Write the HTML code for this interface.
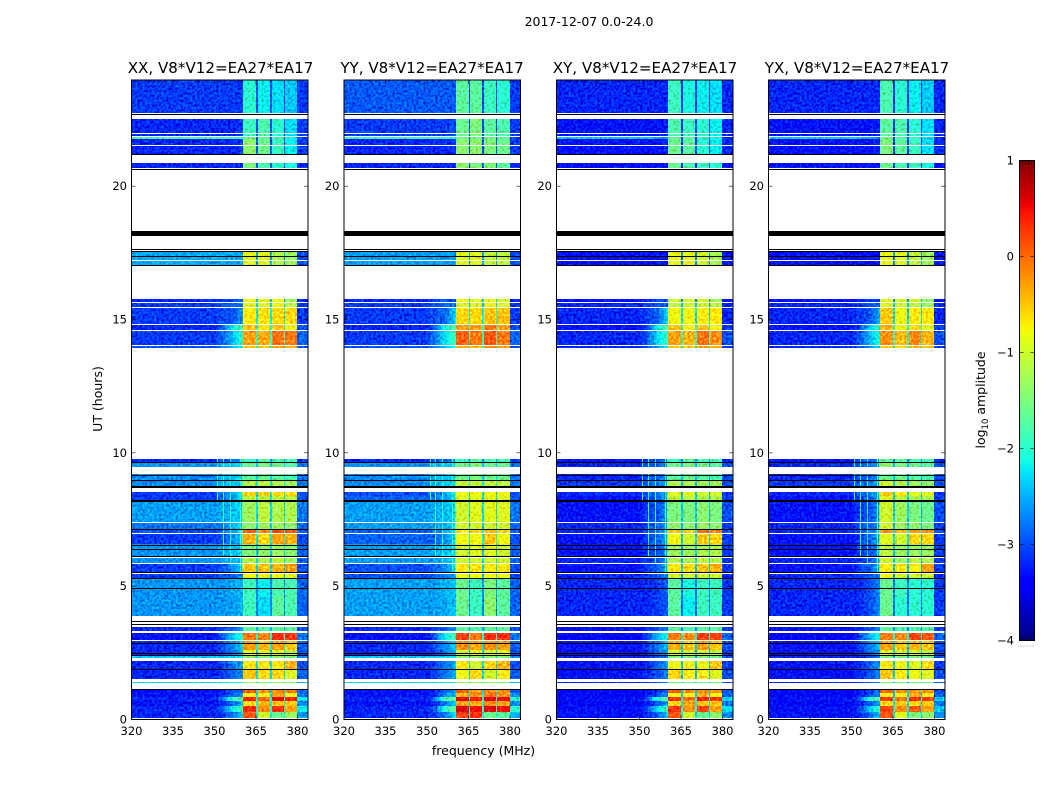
<!DOCTYPE html>
<html lang="en">
<head>
<meta charset="utf-8">
<title>2017-12-07 0.0-24.0</title>
<style>
html,body{margin:0;padding:0;background:#fff;width:1050px;height:800px;overflow:hidden}
svg{display:block}
text{font-family:"DejaVu Sans","Liberation Sans",sans-serif;fill:#000}
.tick{font-size:11.5px}
.label{font-size:12.5px}
.title{font-size:15.1px;text-anchor:middle}
</style>
</head>
<body>
<svg id="figure" xmlns="http://www.w3.org/2000/svg" width="1050" height="800" viewBox="0 0 1050 800">
  <defs>
    <filter id="speckle" x="0" y="0" width="100%" height="100%" color-interpolation-filters="sRGB">
      <feTurbulence type="fractalNoise" baseFrequency="0.42" numOctaves="1" seed="4" result="n"/>
      <feColorMatrix in="n" type="matrix" values="0 0 0 0 0.5 1 0 0 0 0 1 0 0 0 0 0 0 0 0 1" result="g"/>
      <feComposite in="SourceGraphic" in2="g" operator="arithmetic" k1="0" k2="1" k3="0.9" k4="-0.45" result="m"/>
      <feComposite in="m" in2="SourceAlpha" operator="in"/>
    </filter>
  </defs>
  <text class="label" x="589" y="26" text-anchor="middle">2017-12-07 0.0-24.0</text>
  <text class="title" x="220.5" y="73">XX, V8*V12=EA27*EA17</text>
  <text class="title" x="432" y="73">YY, V8*V12=EA27*EA17</text>
  <text class="title" x="645" y="73">XY, V8*V12=EA27*EA17</text>
  <text class="title" x="857" y="73">YX, V8*V12=EA27*EA17</text>
  <text class="label" x="483.5" y="755" text-anchor="middle">frequency (MHz)</text>
  <text class="label" transform="translate(102,399) rotate(-90)" text-anchor="middle">UT (hours)</text>
  <text class="label" transform="translate(985,400) rotate(-90)" text-anchor="middle">log<tspan font-size="8.5" dy="3">10</tspan><tspan dy="-3"> amplitude</tspan></text>
  <g id="panels"></g>
  <g id="colorbar"></g>
</svg>
<script>
// Frequency channel-group edges (MHz) used by the sub-band columns
const freqEdges = [320, 350, 360.4, 365, 365.7, 370, 370.7, 375, 375.4, 379.9, 384];
// Roll-off anchors between the flat left side and the first sub-band (MHz)
const rollOffFreqs = [350, 352.5, 356.5, 360.4];
// Time blocks [low hour, high hour]
const scanBlocks = [
[0,.29],[.29,.5],[.5,.71],[.71,.86],[.86,1],[1,1.12],[1.36,1.42],[1.52,1.875],[1.875,2.2],[2.32,2.42],
[2.42,2.6],[2.6,2.96],[3,3.24],[3.33,3.48],[3.88,4.6],[4.6,5.3],[5.3,5.53],[5.53,5.85],[5.85,6.08],[6.08,6.58],
[6.58,6.97],[6.97,7.12],[7.12,7.38],[7.38,8.14],[8.14,8.4],[8.4,8.55],[8.7,8.97],[8.97,9.2],[9.46,9.64],[9.64,9.77],
[13.94,14.05],[14.05,14.58],[14.58,14.84],[14.84,15.45],[15.45,15.66],[15.66,15.77],[17.04,17.55],[20.68,20.87],[21.2,21.78],[21.78,21.84],
[21.84,22.52],[22.74,24]];
// log10 amplitude per block: 320-350, 352.5, 356.5, 360, sub1..sub4, 380-384, sub-band gaps
const xxValues = [
[-3.2,-3.1,-2.8,-2.3,.1,-1,-1.6,-1.3,-2.6,-2.2],[-3.2,-3,-2.2,-1.8,.3,-.2,.3,-.3,-2.2,-2],[-3.3,-3.2,-2.9,-2.4,-.6,-.4,-.5,-.5,-2.7,-2.2],[-3.2,-2.9,-1.9,-1.7,.35,0,.55,.35,-2.2,-2],
[-3.3,-3.2,-2.9,-2.6,-.8,-.8,-.3,-.8,-2.8,-2.3],[-3.3,-3.2,-3,-2.7,.1,-.2,-.2,-.1,-2.9,-2.3],[-2.3,-2.3,-2.2,-2.1,-1.3,-1.3,-1.3,-1.4,-2.5,-2.2],[-3.2,-3.1,-2.9,-2.6,-.5,-.6,-.6,-.9,-2.9,-2.3],
[-3.2,-3.1,-2.8,-2.5,-.7,-.7,-.7,-.4,-3,-2.3],[-2.4,-2.4,-2.3,-2.2,-1.4,-1.4,-1.4,-1.5,-2.7,-2.3],[-3.2,-3.1,-2.8,-2.5,-.9,-.9,-.9,-1.1,-3,-2.4],[-3.2,-3,-2.7,-2.3,-.3,-.4,-.3,-.5,-2.9,-2.2],
[-3.3,-3,-2.4,-2,-.1,-.15,.3,.25,-2.8,-2],[-3.2,-3.1,-2.9,-2.6,-1.7,-1.8,-1.7,-1.7,-3,-2.5],[-2.65,-2.65,-2.6,-2.5,-1.9,-2.3,-1.7,-1.8,-2.9,-2.7],[-2.65,-2.65,-2.55,-2.5,-1.9,-2.2,-1.8,-1.8,-2.9,-2.7],
[-3.1,-3,-2.9,-2.7,-.8,-.8,-.8,-.9,-3.1,-2.5],[-3.1,-3,-2.7,-2.3,-.5,-.5,-.4,-.3,-3,-2.3],[-2.65,-2.6,-2.5,-2.4,-1.2,-1.2,-1.1,-1.3,-2.9,-2.3],[-2.65,-2.6,-2.4,-2.4,-1.5,-1.4,-1.3,-1.4,-2.9,-2.4],
[-3.1,-3,-2.7,-2.3,-.4,-.6,-.3,-.4,-3,-2.2],[-3,-2.9,-2.6,-2.2,0,-.2,.1,.1,-2.9,-2.2],[-2.8,-2.8,-2.5,-2.3,-1.4,-1.3,-1.3,-1.4,-2.9,-2.4],[-2.6,-2.55,-2.45,-2.3,-1.3,-1.1,-1.2,-1.2,-2.8,-2.3],
[-3.1,-2.9,-2.6,-2.3,-1.1,-1.1,-1.1,-1.1,-3,-2.3],[-3.1,-2.8,-2.6,-2.2,-.55,-.55,-.6,-.6,-3,-2.3],[-2.7,-2.5,-2.4,-2.3,-1.2,-1.1,-1.2,-1.3,-2.8,-2.2],[-2.7,-2.5,-2.4,-2.3,-1.7,-1.6,-1.7,-1.8,-2.8,-2.4],
[-2.65,-2.5,-2.4,-2.3,-1.6,-1.5,-1.6,-1.7,-2.8,-2.4],[-3.2,-3,-2.9,-2.5,-1.9,-1.7,-1.8,-1.8,-3.1,-2.6],[-3,-2.8,-2.5,-2.2,-.5,-.5,-.3,-.4,-3,-2.1],[-3.1,-2.9,-2.5,-1.9,-.3,-.35,-.05,-.1,-2.9,-1.9],
[-3.2,-3,-2.2,-1.8,-.5,-.7,-.5,-.8,-3,-2],[-3.1,-3,-3,-2.6,-.7,-.65,-.6,-.6,-3.1,-2.2],[-3.1,-3,-2.9,-2.8,-.9,-.9,-.8,-1.1,-3.1,-2.4],[-3.2,-3.1,-3,-2.9,-.8,-.9,-.8,-1.3,-3.2,-2.5],
[-2.55,-2.55,-2.55,-2.55,-.9,-.9,-1.2,-1.3,-3,-2.6],[-3.2,-3.2,-3.2,-3.2,-1.5,-1.8,-2,-2.1,-3.2,-3],[-3.2,-3.2,-3.2,-3.1,-1.4,-1.6,-1.9,-2.2,-3.1,-3],[-1.8,-1.8,-1.9,-2,-1.7,-1.7,-1.9,-2.2,-3.1,-3],
[-3.2,-3.2,-3.2,-3.1,-1.9,-1.8,-2,-2.3,-3.1,-3],[-3.1,-3.1,-3.1,-3.1,-2,-2.2,-2.3,-2.4,-3.1,-3]];
const yyValues = [
[-3.2,-3.1,-2.8,-2.2,.2,.3,-1.6,-1.7,-2.5,-2.1],[-3.2,-3,-2,-1.6,.6,.5,.6,.5,-2,-1.9],[-3.3,-3.2,-2.8,-2.3,-.3,-.4,-.2,-.3,-2.7,-2.1],[-3.2,-2.9,-1.8,-1.6,.6,.4,.6,.5,-2,-1.9],
[-3.3,-3.2,-2.7,-2.4,-.4,-.2,-.1,-.2,-2.7,-2.2],[-3.3,-3.2,-2.9,-2.6,.0,-.2,-.1,-.2,-2.9,-2.2],[-2.3,-2.3,-2.2,-2.1,-1.3,-1.3,-1.3,-1.4,-2.5,-2.2],[-3.2,-3.1,-2.8,-2.5,-.8,-.6,-1,-.7,-2.9,-2.3],
[-3.2,-3.1,-2.8,-2.5,-.7,-1,-.6,-.4,-3,-2.3],[-2.4,-2.4,-2.3,-2.2,-1.4,-1.4,-1.4,-1.5,-2.7,-2.3],[-3.2,-3.1,-2.8,-2.5,-1,-.9,-1,-.9,-3,-2.4],[-3.2,-3,-2.7,-2.3,-.2,-.3,-.2,-.3,-2.9,-2.2],
[-3.3,-3,-2.2,-1.8,.2,-.1,.3,.3,-2.8,-2],[-3.2,-3.1,-2.9,-2.6,-1.7,-1.8,-1.7,-1.7,-3,-2.5],[-2.6,-2.6,-2.55,-2.4,-1.6,-1.9,-1.4,-1.7,-2.9,-2.7],[-2.6,-2.6,-2.5,-2.4,-1.6,-1.9,-1.5,-1.7,-2.9,-2.7],
[-3,-2.9,-2.8,-2.5,-.8,-.8,-.8,-.8,-3.1,-2.5],[-3,-2.9,-2.7,-2.3,-.7,-.7,-.7,-.7,-3,-2.3],[-2.6,-2.6,-2.5,-2.4,-1,-1,-1,-1,-2.9,-2.3],[-2.6,-2.55,-2.4,-2.3,-1,-.9,-.9,-1,-2.9,-2.4],
[-2.9,-2.9,-2.7,-2.3,-.8,-.8,-.5,-.8,-3,-2.2],[-2.9,-2.8,-2.6,-2.2,-.7,-.6,-.4,-.6,-2.9,-2.2],[-2.6,-2.6,-2.5,-2.3,-1,-1,-1,-1,-2.9,-2.4],[-2.6,-2.55,-2.45,-2.3,-1,-.9,-.9,-.9,-2.8,-2.3],
[-2.9,-2.8,-2.6,-2.3,-.9,-.9,-.9,-.9,-3,-2.3],[-3,-2.8,-2.6,-2.2,-.8,-.8,-.8,-.8,-3,-2.3],[-2.7,-2.5,-2.4,-2.3,-1.1,-1.1,-1.1,-1.1,-2.8,-2.2],[-2.7,-2.5,-2.4,-2.3,-1.6,-1.5,-1.6,-1.6,-2.8,-2.4],
[-2.65,-2.5,-2.4,-2.3,-1.6,-1.5,-1.6,-1.6,-2.8,-2.4],[-3.2,-3,-2.9,-2.5,-1.9,-1.7,-1.8,-1.8,-3.1,-2.6],[-3,-2.8,-2.5,-2.1,-.4,-.4,-.2,-.3,-3,-2.1],[-3.1,-2.8,-2.3,-1.8,.05,-.1,.1,-.1,-2.9,-1.9],
[-3.2,-3,-2.1,-1.7,-.3,-.3,-.1,-.3,-3,-2],[-3.1,-3,-2.9,-2.3,-.6,-.6,-.5,-.5,-3.1,-2.2],[-3.1,-3,-2.9,-2.8,-.9,-.9,-.8,-.9,-3.1,-2.4],[-3.2,-3.1,-3,-2.9,-.8,-.9,-.8,-1,-3.2,-2.5],
[-2.6,-2.6,-2.6,-2.6,-.9,-.9,-1.1,-1.1,-3,-2.6],[-3.2,-3.2,-3.2,-3.2,-1.4,-1.5,-1.5,-1.7,-3.2,-3],[-3.2,-3.2,-3.2,-3.1,-1.4,-1.4,-1.5,-1.6,-3.1,-3],[-1.9,-1.9,-2,-2.1,-1.6,-1.6,-1.6,-1.7,-3.1,-3],
[-3.1,-3.1,-3.1,-3,-1.6,-1.5,-1.7,-1.8,-3.1,-3],[-2.95,-2.95,-2.95,-2.95,-1.7,-1.7,-1.9,-2,-3.1,-3]];
const xyValues = [
[-3.3,-3.2,-2.9,-2.4,.1,-1,-1.6,-1.4,-2.7,-2.3],[-3.3,-3.1,-2.3,-1.8,.3,-.2,.2,-.3,-2.3,-2.1],[-3.4,-3.3,-3,-2.5,-.6,-.4,-.5,-.5,-2.8,-2.3],[-3.3,-3,-2,-1.7,.3,0,.4,.3,-2.3,-2.1],
[-3.4,-3.3,-3,-2.7,-.8,-.8,-.4,-.8,-2.9,-2.4],[-3.4,-3.3,-3.1,-2.8,.1,-.2,-.2,-.2,-3,-2.4],[-3.2,-3.2,-3,-2.7,-1.5,-1.5,-1.5,-1.5,-3,-2.5],[-3.3,-3.2,-3,-2.7,-.6,-.7,-.7,-.9,-3,-2.4],
[-3.3,-3.2,-2.9,-2.6,-.8,-.8,-.8,-.5,-3.1,-2.4],[-3.2,-3.2,-3,-2.8,-1.5,-1.5,-1.5,-1.6,-3,-2.5],[-3.3,-3.2,-2.9,-2.6,-1,-1,-1,-1.1,-3.1,-2.5],[-3.3,-3.1,-2.8,-2.4,-.4,-.5,-.3,-.5,-3,-2.3],
[-3.4,-3.1,-2.5,-2.1,-.1,-.2,.25,.2,-2.9,-2.1],[-3.3,-3.2,-3,-2.7,-1.7,-1.8,-1.7,-1.7,-3.1,-2.6],[-3.2,-3.2,-3.1,-2.9,-1.7,-2.2,-1.9,-1.9,-3.1,-2.8],[-3.2,-3.2,-3.1,-2.9,-1.7,-2.1,-1.9,-1.9,-3.1,-2.8],
[-3.2,-3.1,-3,-2.7,-1,-1,-1,-1,-3.2,-2.6],[-3.3,-3.1,-2.9,-2.5,-.7,-.6,-.5,-.4,-3.1,-2.4],[-3.2,-3.1,-3,-2.6,-1.2,-1.2,-1.1,-1.2,-3.1,-2.4],[-3.3,-3.1,-3,-2.6,-1.3,-1.3,-1.2,-1.2,-3.1,-2.5],
[-3.3,-3.1,-2.9,-2.5,-.8,-1,-.5,-.6,-3.1,-2.3],[-3.2,-3,-2.8,-2.4,-.5,-.6,-.1,-.1,-3,-2.3],[-3.2,-3,-2.9,-2.6,-1.4,-1.4,-1.3,-1.4,-3.1,-2.5],[-3.3,-3.1,-3,-2.6,-1.5,-1.5,-1.4,-1.5,-3,-2.4],
[-3.3,-3.1,-2.9,-2.5,-1.1,-1.1,-1.2,-1.2,-3.1,-2.4],[-3.2,-3,-2.8,-2.4,-.9,-.9,-1,-1,-3.1,-2.4],[-3.1,-2.9,-2.8,-2.5,-1.2,-1.2,-1.3,-1.3,-3,-2.4],[-3.2,-3,-2.9,-2.6,-1.7,-1.6,-1.7,-1.8,-3,-2.5],
[-3.2,-3,-2.9,-2.6,-1.6,-1.5,-1.6,-1.7,-3,-2.5],[-3.3,-3.1,-3,-2.7,-1.9,-1.7,-1.8,-1.8,-3.2,-2.7],[-3.2,-3,-2.6,-2.2,-.5,-.5,-.3,-.4,-3.1,-2.1],[-3.2,-3,-2.3,-1.9,-.3,-.4,-.05,-.2,-3,-1.9],
[-3.3,-3.1,-2.2,-1.7,-.5,-.7,-.5,-.8,-3.1,-2],[-3.2,-3.1,-2.9,-2.3,-.8,-.8,-.7,-.7,-3.2,-2.3],[-3.2,-3.1,-3,-2.9,-1.1,-1,-1,-1.1,-3.2,-2.5],[-3.3,-3.2,-3.1,-3,-1,-1,-1,-1.3,-3.3,-2.6],
[-3.3,-3.3,-3.3,-3.3,-.85,-.85,-1,-1.25,-3.3,-2.7],[-3.3,-3.3,-3.3,-3.3,-1.6,-1.8,-1.9,-2,-3.3,-3.1],[-3.3,-3.3,-3.3,-3.2,-1.6,-1.7,-2,-2.2,-3.2,-3.1],[-2.4,-2.4,-2.6,-2.8,-1.7,-1.8,-2,-2.2,-3.2,-3.1],
[-3.3,-3.3,-3.3,-3.2,-1.8,-1.9,-2,-2.2,-3.2,-3.1],[-3.2,-3.2,-3.2,-3.2,-1.9,-2.1,-2.2,-2.3,-3.2,-3.1]];
const yxValues = [
[-3.3,-3.2,-2.9,-2.4,.1,-.9,-1.5,-1.4,-2.7,-2.3],[-3.3,-3.1,-2.4,-1.9,.2,-.2,.1,-.3,-2.4,-2.1],[-3.4,-3.3,-3,-2.5,-.6,-.5,-.6,-.5,-2.8,-2.3],[-3.3,-3,-2,-1.7,.25,-.1,.3,.2,-2.4,-2.1],
[-3.4,-3.3,-3,-2.7,-.7,-.8,-.4,-.7,-2.9,-2.4],[-3.4,-3.3,-3.1,-2.8,0,-.2,-.2,-.2,-3,-2.4],[-3.2,-3.2,-3,-2.7,-1.4,-1.5,-1.5,-1.5,-3,-2.5],[-3.3,-3.2,-3,-2.7,-.5,-.7,-.8,-.9,-3,-2.4],
[-3.3,-3.2,-2.9,-2.6,-.7,-.8,-.9,-.6,-3.1,-2.4],[-3.2,-3.2,-3,-2.8,-1.5,-1.5,-1.5,-1.6,-3,-2.5],[-3.3,-3.2,-2.9,-2.6,-.9,-1,-1,-1.1,-3.1,-2.5],[-3.3,-3.1,-2.8,-2.4,-.3,-.5,-.4,-.5,-3,-2.3],
[-3.4,-3.1,-2.5,-2.1,-.15,-.2,.2,.1,-2.9,-2.1],[-3.3,-3.2,-3,-2.7,-1.7,-1.8,-1.8,-1.8,-3.1,-2.6],[-3.2,-3.2,-3,-2.7,-1.6,-2,-2,-2,-3.1,-2.8],[-3.2,-3.2,-3,-2.7,-1.6,-1.9,-2,-2,-3.1,-2.8],
[-3.2,-3.1,-3,-2.7,-.8,-1,-1,-1,-3.2,-2.6],[-3.3,-3.1,-2.9,-2.5,-.7,-.7,-.7,-.3,-3.1,-2.4],[-3.2,-3.1,-3,-2.6,-1,-1.3,-1.1,-1.2,-3.1,-2.4],[-3.3,-3.1,-3,-2.6,-1.1,-1.3,-1.3,-1.3,-3.1,-2.5],
[-3.3,-3.1,-2.9,-2.5,-.9,-1,-.6,-.6,-3.1,-2.3],[-3.2,-3,-2.8,-2.3,-.3,-.4,-.3,-.2,-3,-2.3],[-3.2,-3,-2.9,-2.6,-1,-1.3,-1.4,-1.5,-3.1,-2.5],[-3.3,-3.1,-3,-2.6,-1,-1.3,-1.5,-1.6,-3,-2.4],
[-3.3,-3.1,-2.9,-2.5,-.9,-1.1,-1.2,-1.2,-3.1,-2.4],[-3.2,-3,-2.8,-2.4,-.5,-.7,-.9,-.9,-3.1,-2.4],[-3.1,-2.9,-2.8,-2.5,-1,-1.2,-1.3,-1.4,-3,-2.4],[-3.2,-3,-2.9,-2.6,-1.6,-1.6,-1.7,-1.8,-3,-2.5],
[-3.2,-3,-2.9,-2.6,-1.4,-1.5,-1.6,-1.7,-3,-2.5],[-3.3,-3.1,-3,-2.7,-1.7,-1.7,-1.8,-1.8,-3.2,-2.7],[-3.2,-3,-2.7,-2.3,-.5,-.6,-.4,-.5,-3.1,-2.1],[-3.2,-3,-2.5,-2,-.2,-.45,-.15,-.4,-3,-1.9],
[-3.3,-3.1,-2.4,-1.9,-.4,-.8,-.6,-.9,-3.1,-2],[-3.2,-3.1,-3,-2.5,-.5,-.8,-.7,-.7,-3.2,-2.3],[-3.2,-3.1,-3,-2.9,-.9,-1,-1.1,-1.3,-3.2,-2.5],[-3.3,-3.2,-3.1,-3,-.9,-1,-1,-1.4,-3.3,-2.6],
[-3.3,-3.3,-3.3,-3.3,-.85,-.9,-1.1,-1.3,-3.3,-2.7],[-3.3,-3.3,-3.3,-3.3,-1.6,-1.8,-1.9,-2.1,-3.3,-3.1],[-3.3,-3.3,-3.3,-3.2,-1.5,-1.7,-1.9,-2.3,-3.2,-3.1],[-2.4,-2.4,-2.6,-2.8,-1.6,-1.8,-2,-2.3,-3.2,-3.1],
[-3.3,-3.3,-3.3,-3.2,-1.7,-1.8,-2,-2.3,-3.2,-3.1],[-3.2,-3.2,-3.2,-3.2,-1.8,-2,-2.2,-2.4,-3.2,-3.1]];
// Narrow RFI channels [MHz, low hour, high hour, log10 amplitude]
const rfiChannels = [[351,7.95,9.77,-1.9],[353,6.0,9.77,-1.9],[355.5,5.6,9.77,-2],[359.1,5.5,9.77,-1.8],[360,5.5,9.77,-1.6]];
// Single-integration flagged rows (hours)
const whiteFlagHours = [21.99,21.88,21.53,17.23,15.67,15.47,14.84,14.6,14.03,7.39,6.98,6.08,5.86,5.48,2.98,.07,.02];
const blackFlagHours = [22.72,21.19,20.66,17.66,17.57,17.39,17.06,9.64,9.16,8.97,7.15,6.555,6.38,6.12,5.52,5.295,4.92,3.68,3.58,2.857,2.48,2.42,1.88,1.143];
const blackFlagBands = [[18.13,18.32],[8.67,8.74],[8.15,8.23]];
// Axis ticks
const freqTicks = [320,335,350,365,380];
const hourTicks = [0,5,10,15,20];
const colorbarTicks = [1,0,-1,-2,-3,-4];
const colorbarTickLabels = ["1","0","\u22121","\u22122","\u22123","\u22124"];
const panelNames = ["xx","yy","xy","yx"];
const panelLefts = [131.5,344,556.5,768.5];
const panelSeries = [xxValues,yyValues,xyValues,yxValues];

const SVGNS = "http://www.w3.org/2000/svg";
const plotWidth = 176.5, plotTop = 80, plotBottom = 719.5;
const yAxis = h => plotBottom - h * 640 / 24;
const xAxis = (left, f) => left + (f - 320) * 2.767;
const node = (parent, tag, attrs) => {
  const el = document.createElementNS(SVGNS, tag);
  for (const k in attrs) el.setAttribute(k, attrs[k]);
  parent.appendChild(el);
  return el;
};
const ramp = (t, pts) => {
  for (let i = 1; i < pts.length; i++) {
    if (t <= pts[i][0]) {
      const a = pts[i - 1], b = pts[i];
      return a[1] + (b[1] - a[1]) * (t - a[0]) / (b[0] - a[0]);
    }
  }
  return pts[pts.length - 1][1];
};
const jet = v => {
  const t = Math.max(0, Math.min(1, (v + 4) / 5));
  const r = ramp(t, [[0,0],[.35,0],[.66,1],[.89,1],[1,.5]]);
  const g = ramp(t, [[0,0],[.125,0],[.375,1],[.64,1],[.91,0],[1,0]]);
  const b = ramp(t, [[0,.5],[.11,1],[.34,1],[.65,0],[1,0]]);
  return `rgb(${Math.round(r*255)},${Math.round(g*255)},${Math.round(b*255)})`;
};
// Map frequency-group index to a value column (-1 = roll-off, drawn channel by channel)
const columnOfGroup = [0,-1,4,9,5,9,6,9,7,8];

const panelsRoot = document.getElementById("panels");
panelNames.forEach((name, p) => {
  const left = panelLefts[p];
  const right = left + plotWidth;
  const group = node(panelsRoot, "g", {});
  
  
  const heat = node(group, "g", {filter: "url(#speckle)"});
  
  
  const values = panelSeries[p];
  const cell = (x0, x1, y0, y1, v) => node(heat, "rect", {
    x: x0, y: y0, width: Math.max(1, x1 - x0), height: Math.max(1, y1 - y0),
    fill: jet(v), "shape-rendering": "crispEdges"
  });
  scanBlocks.forEach((blk, b) => {
    const y0 = Math.max(80, Math.round(yAxis(blk[1]))), y1 = Math.round(yAxis(blk[0]));
    const row = values[b];
    for (let c = 0; c < freqEdges.length - 1; c++) {
      const x0 = Math.round(xAxis(left, freqEdges[c]));
      const x1 = Math.min(Math.round(right), Math.round(xAxis(left, freqEdges[c + 1])));
      if (columnOfGroup[c] >= 0) {
        const rect = cell(x0, x1, y0, y1, row[columnOfGroup[c]]);
        
        
      } else {
        const anchors = rollOffFreqs.map((f, i) => [f, row[i]]);
        for (let x = x0; x < x1; x += 2) {
          const f = 320 + (x + 1 - left) / 2.767;
          const rect = cell(x, Math.min(x1, x + 2), y0, y1, ramp(f, anchors));
          
          
        }
      }
    }
    rfiChannels.forEach(rfi => {
      if (blk[0] >= rfi[1] && blk[1] <= rfi[2]) {
        const x0 = Math.round(xAxis(left, rfi[0]));
        const rect = cell(x0, x0 + 1, y0, y1, rfi[3]);
        
        
      }
    });
  });
  whiteFlagHours.forEach(h => {
    const rect = node(group, "rect", {x: left, y: Math.round(yAxis(h)), width: plotWidth, height: 1, fill: "#fff", "shape-rendering": "crispEdges"});
    
    
  });
  blackFlagHours.forEach(h => {
    const rect = node(group, "rect", {x: left, y: Math.round(yAxis(h)), width: plotWidth, height: 1, fill: "#000", "shape-rendering": "crispEdges"});
    
    
  });
  blackFlagBands.forEach(bd => {
    const y0 = Math.round(yAxis(bd[1])), y1 = Math.round(yAxis(bd[0]));
    const rect = node(group, "rect", {x: left, y: y0, width: plotWidth, height: y1 - y0, fill: "#000", "shape-rendering": "crispEdges"});
    
    
  });
  const frame = node(group, "rect", {x: left, y: plotTop, width: plotWidth, height: plotBottom - plotTop, fill: "none", stroke: "#000", "stroke-width": 1});
  
  
  freqTicks.forEach(f => {
    const x = xAxis(left, f);
    const t1 = node(group, "line", {x1: x, x2: x, y1: plotBottom, y2: plotBottom - 4, stroke: "#000", "stroke-width": .6});
    
    
    const t2 = node(group, "line", {x1: x, x2: x, y1: plotTop, y2: plotTop + 4, stroke: "#000", "stroke-width": .6});
    
    
    const label = node(group, "text", {x: x, y: 735, class: "tick", "text-anchor": "middle"});
    
    
    label.textContent = f;
  });
  hourTicks.forEach(h => {
    const y = yAxis(h);
    const t1 = node(group, "line", {x1: left, x2: left + 4, y1: y, y2: y, stroke: "#000", "stroke-width": .6});
    
    
    const t2 = node(group, "line", {x1: right, x2: right - 4, y1: y, y2: y, stroke: "#000", "stroke-width": .6});
    
    
    const label = node(group, "text", {x: left - 4.5, y: y + 4, class: "tick", "text-anchor": "end"});
    
    
    label.textContent = h;
  });
});

// Colorbar
const cbRoot = document.getElementById("colorbar");
const cbLeft = 1019.5, cbWidth = 15, cbTop = 160.5, cbBottom = 640.5;
const cbAxis = v => cbBottom - (v + 4) / 5 * (cbBottom - cbTop);
for (let y = 160; y < 640; y += 2) {
  const v = 1 - (y + 1 - 160) / 480 * 5;
  const swatch = node(cbRoot, "rect", {x: cbLeft, y: y, width: cbWidth, height: 2, fill: jet(v), "shape-rendering": "crispEdges"});
  
  
}
const cbFrame = node(cbRoot, "rect", {x: cbLeft, y: cbTop, width: cbWidth, height: cbBottom - cbTop, fill: "none", stroke: "#000", "stroke-width": 1});


colorbarTicks.forEach((v, i) => {
  const y = cbAxis(v);
  const t1 = node(cbRoot, "line", {x1: cbLeft, x2: cbLeft + 4, y1: y, y2: y, stroke: "#000", "stroke-width": .6});
  
  
  const t2 = node(cbRoot, "line", {x1: cbLeft + cbWidth, x2: cbLeft + cbWidth - 4, y1: y, y2: y, stroke: "#000", "stroke-width": .6});
  
  
  const label = node(cbRoot, "text", {x: 1014, y: y + 4, class: "tick", "text-anchor": "end"});
  
  
  label.textContent = colorbarTickLabels[i];
});
[0,1,2,3,4,5].forEach(i => {
  const x = cbLeft + i * 3;
  [[cbTop, cbTop + 4], [cbBottom, cbBottom - 4]].forEach(pair => {
    const t = node(cbRoot, "line", {x1: x, x2: x, y1: pair[0], y2: pair[1], stroke: "#000", "stroke-width": .6});
    
    
  });
  const dot = node(cbRoot, "rect", {x: x - 2, y: 645.5, width: 1, height: 1, fill: "#999"});
  
  
});
</script>
</body>
</html>
